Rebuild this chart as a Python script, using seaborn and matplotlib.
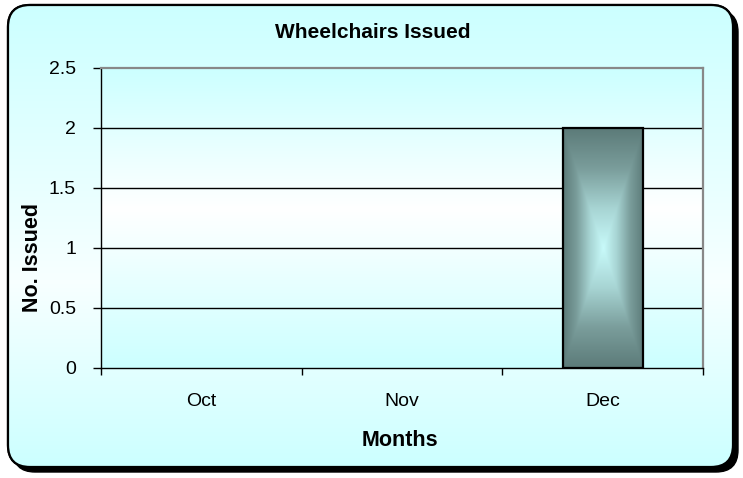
import numpy as np
import pandas as pd
import seaborn as sns
import matplotlib
matplotlib.use("Agg")
import matplotlib.pyplot as plt
from matplotlib.patches import FancyBboxPatch
from matplotlib.colors import LinearSegmentedColormap

# ---- data ----
months = ["Oct", "Nov", "Dec"]
issued = [0, 0, 2]
title_text = "Wheelchairs Issued"
xlabel_text = "Months"
ylabel_text = "No. Issued"
yticks = [0, 0.5, 1, 1.5, 2, 2.5]
ytick_labels = ["0", "0.5", "1", "1.5", "2", "2.5"]

sns.set_theme(style="white")
plt.rcParams['font.family'] = ['Liberation Sans', 'DejaVu Sans']

W, H = 743, 478
fig = plt.figure(figsize=(W / 100, H / 100), dpi=100)
fig.patch.set_facecolor('white')

# ---- background (pixel-coordinate axes) ----
bg = fig.add_axes([0, 0, 1, 1], zorder=0)
bg.set_xlim(0, W)
bg.set_ylim(H, 0)
bg.axis('off')

cyan = np.array([0.80, 1.0, 1.0])
white = np.array([1.0, 1.0, 1.0])


def vgrad(n, peak, strength):
    t = np.linspace(0, 1, n)
    w = np.where(t < peak, t / peak, (1 - t) / (1 - peak))
    w = np.clip(w, 0, 1) * strength
    col = cyan[None, :] * (1 - w[:, None]) + white[None, :] * w[:, None]
    return col[:, None, :]


bx0, by0, bw, bh = 8, 5, 725, 462
shadow = FancyBboxPatch((bx0 + 5, by0 + 5), bw, bh,
                        boxstyle="round,pad=0,rounding_size=22",
                        fc='black', ec='black', lw=1, zorder=1)
bg.add_patch(shadow)
box = FancyBboxPatch((bx0, by0), bw, bh,
                     boxstyle="round,pad=0,rounding_size=22",
                     fc=(0.8, 1, 1), ec='black', lw=1.6, zorder=2)
bg.add_patch(box)
im = bg.imshow(vgrad(300, 0.6, 0.85), extent=(bx0, bx0 + bw, by0 + bh, by0),
               aspect='auto', zorder=2.5, interpolation='bilinear')
im.set_clip_path(box)
edge = FancyBboxPatch((bx0, by0), bw, bh,
                      boxstyle="round,pad=0,rounding_size=22",
                      fc='none', ec='black', lw=1.6, zorder=3)
bg.add_patch(edge)

# plot area gradient
px0, px1, py0, py1 = 101, 703, 68, 368
bg.imshow(vgrad(300, 0.47, 1.0), extent=(px0, px1, py1, py0),
          aspect='auto', zorder=4, interpolation='bilinear')
bg.set_xlim(0, W)
bg.set_ylim(H, 0)

# ---- main axes ----
ax = fig.add_axes([px0 / W, 1 - py1 / H, (px1 - px0) / W, (py1 - py0) / H], zorder=2)
ax.set_facecolor('none')
df = pd.DataFrame({"Month": months, "Issued": issued})
sns.barplot(data=df, x="Month", y="Issued", ax=ax, width=0.4,
            color='#7fa3a1', edgecolor='black', linewidth=1.6, zorder=2)

bar_cmap = LinearSegmentedColormap.from_list(
    "bar", ["#c8fafa", "#a7d4d3", "#7a9d9b", "#5c7b79"])
nx, ny = 120, 300
xx, yy = np.meshgrid(np.linspace(-1, 1, nx), np.linspace(-1, 1, ny))
dist = np.maximum(np.abs(xx), np.abs(yy))
for p in ax.patches:
    h = p.get_height()
    if h <= 0:
        p.set_visible(False)
        continue
    x0 = p.get_x()
    w = p.get_width()
    p.set_facecolor('none')
    p.set_zorder(3)
    img = ax.imshow(dist, extent=(x0, x0 + w, 0, h), cmap=bar_cmap,
                    vmin=0, vmax=1, aspect='auto', zorder=2.5,
                    interpolation='bilinear')
    img.set_clip_path(p)

ax.set_xlim(-0.5, 2.5)
ax.set_ylim(0, 2.5)
ax.set_yticks(yticks)
ax.set_yticklabels(ytick_labels)
ax.set_xticks(range(len(months)))
ax.set_xticklabels(months)
ax.set_xticks([-0.5, 0.5, 1.5, 2.5], minor=True)
ax.set_xlabel("")
ax.set_ylabel("")

for y in yticks[1:-1]:
    ax.axhline(y, color='black', lw=1.0, zorder=1)

for s in ['left', 'bottom']:
    ax.spines[s].set_color('black')
    ax.spines[s].set_linewidth(1.0)
for s in ['top', 'right']:
    ax.spines[s].set_color('#888888')
    ax.spines[s].set_linewidth(1.6)

ax.tick_params(axis='y', which='major', direction='out', length=6, width=1,
               color='black', pad=12, labelsize=14, labelcolor='black', left=True)
ax.tick_params(axis='x', which='major', length=0, pad=18, labelsize=14,
               labelcolor='black')
ax.tick_params(axis='x', which='minor', direction='out', length=5, width=1,
               color='black', bottom=True)

# ---- texts ----
fig.text(373 / W, 1 - 33 / H, title_text, ha='center', va='center',
         fontsize=15, fontweight='bold', color='black')
fig.text(400 / W, 1 - 441 / H, xlabel_text, ha='center', va='center',
         fontsize=15.5, fontweight='bold', color='black')
fig.text(33 / W, 1 - 258 / H, ylabel_text, ha='center', va='center',
         rotation=90, fontsize=15.5, fontweight='bold', color='black')

fig.savefig("out.png", dpi=100)
